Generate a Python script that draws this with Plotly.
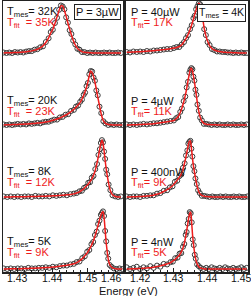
import plotly.graph_objects as go

W, H = 251, 296

# ---------------- data (normalised intensities) ----------------
# Left column: temperature series at P = 3 uW (top to bottom)
E_L1 = [1.4262,1.4270,1.4278,1.4286,1.4294,1.4302,1.4310,1.4318,1.4326,1.4334,1.4342,1.4350,1.4358,1.4366,1.4374,1.4382,1.4390,
        1.4396,1.4402,1.4408,1.4414,1.4420,1.4425,1.4430,1.4435,1.4440,1.4445,1.4450,1.4455,1.4460,1.4466,1.4472,1.4478,1.4485,1.4492,1.4500,1.4508,
        1.4516,1.4524,1.4532,1.4540,1.4548,1.4556,1.4564,1.4572,1.4580,1.4588,1.4596]
fit_L1 = [0.0,0.003,0.005,0.007,0.009,0.012,0.015,0.02,0.027,0.035,0.045,0.06,0.08,0.11,0.15,0.22,0.32,
          0.42,0.5,0.62,0.76,0.9,0.99,0.99,0.9,0.77,0.63,0.5,0.38,0.27,0.17,0.1,0.06,0.03,0.015,0.008,0.004,
          0,0,0,0,0,0,0,0,0,0,0]
dat_L1 = [0.01,0.0,0.01,0.0,0.02,0.01,0.02,0.01,0.03,0.04,0.04,0.07,0.08,0.12,0.14,0.23,0.31,
          0.44,0.49,0.63,0.74,0.91,1.0,0.98,0.92,0.75,0.64,0.48,0.4,0.26,0.18,0.09,0.07,0.02,0.02,0.0,0.01,
          0.0,0.01,0.0,0.0,0.01,0.0,0.01,0.0,0.0,0.01,0.0]

E_L2 = [1.4262,1.4270,1.4278,1.4286,1.4294,1.4302,1.4310,1.4318,1.4326,1.4334,1.4342,1.4350,1.4358,1.4366,1.4374,1.4382,1.4390,1.4398,1.4406,
        1.4414,1.4422,1.4430,1.4438,1.4446,1.4454,1.4462,1.4468,1.4474,1.4480,1.4485,1.4490,1.4494,1.4498,1.4502,1.4506,1.4510,1.4514,1.4518,1.4522,1.4526,1.4530,1.4535,1.4540,1.4546,1.4552,
        1.4560,1.4568,1.4576,1.4584,1.4592,1.4600]
fit_L2 = [0.0,0.003,0.005,0.007,0.009,0.011,0.013,0.016,0.019,0.022,0.026,0.03,0.035,0.04,0.047,0.055,0.065,0.078,0.095,
          0.11,0.13,0.155,0.18,0.21,0.25,0.29,0.33,0.37,0.42,0.48,0.55,0.62,0.7,0.8,0.92,1.0,0.97,0.9,0.8,0.66,0.52,0.36,0.2,0.08,0.03,
          0.01,0.004,0,0,0,0]
dat_L2 = [0.01,0.0,0.01,0.0,0.01,0.02,0.01,0.02,0.01,0.03,0.02,0.03,0.04,0.03,0.05,0.06,0.06,0.08,0.1,
          0.1,0.14,0.15,0.19,0.2,0.26,0.28,0.34,0.36,0.43,0.47,0.56,0.6,0.72,0.78,0.94,1.0,0.99,0.88,0.82,0.64,0.55,0.34,0.22,0.07,0.03,
          0.0,0.01,0.0,0.01,0.0,0.0]

E_L3 = [1.4262,1.4272,1.4282,1.4292,1.4302,1.4312,1.4322,1.4332,1.4342,1.4352,1.4362,1.4372,1.4382,1.4392,1.4402,1.4412,1.4422,1.4432,1.4442,1.4452,1.4462,
        1.4470,1.4478,1.4485,1.4491,1.4497,1.4503,1.4508,1.4513,1.4518,1.4523,1.4528,1.4532,1.4536,1.4539,1.4542,1.4545,1.4548,1.4551,1.4554,1.4557,1.4561,1.4566,1.4572,
        1.4580,1.4588,1.4596]
fit_L3 = [0,0,0.002,0.003,0.004,0.005,0.006,0.007,0.008,0.01,0.011,0.013,0.015,0.017,0.02,0.023,0.027,0.032,0.038,0.045,0.055,
          0.07,0.09,0.12,0.15,0.19,0.23,0.27,0.32,0.38,0.47,0.6,0.72,0.85,0.94,1.0,0.95,0.82,0.65,0.5,0.38,0.24,0.11,0.04,
          0.01,0,0]
dat_L3 = [0.01,0.0,0.01,0.0,0.01,0.0,0.01,0.01,0.0,0.02,0.01,0.01,0.02,0.01,0.03,0.02,0.03,0.04,0.03,0.05,0.06,
          0.07,0.1,0.11,0.16,0.18,0.25,0.26,0.34,0.37,0.49,0.58,0.74,0.84,0.95,1.0,0.96,0.8,0.67,0.48,0.4,0.22,0.12,0.03,
          0.01,0.0,0.01]

E_L4 = [1.4262,1.4272,1.4282,1.4292,1.4302,1.4312,1.4322,1.4332,1.4342,1.4352,1.4362,1.4372,1.4382,1.4392,1.4402,1.4412,1.4422,1.4432,1.4442,1.4452,1.4462,
        1.4470,1.4478,1.4486,1.4493,1.4500,1.4506,1.4512,1.4517,1.4522,1.4527,1.4531,1.4535,1.4539,1.4542,1.4545,1.4548,1.4551,1.4554,1.4557,1.4560,1.4564,1.4569,1.4576,
        1.4584,1.4592,1.4600]
fit_L4 = [0,0.002,0.003,0.004,0.005,0.006,0.008,0.01,0.012,0.014,0.017,0.02,0.024,0.028,0.033,0.039,0.046,0.055,0.065,0.077,0.09,
          0.11,0.14,0.18,0.23,0.28,0.34,0.41,0.48,0.57,0.67,0.76,0.85,0.93,0.98,1.0,0.9,0.68,0.46,0.3,0.17,0.08,0.035,0.01,
          0,0,0]
dat_L4 = [0.01,0.0,0.01,0.0,0.01,0.01,0.0,0.02,0.01,0.01,0.02,0.02,0.03,0.02,0.04,0.03,0.05,0.06,0.06,0.08,0.09,
          0.12,0.13,0.19,0.22,0.3,0.33,0.43,0.47,0.59,0.65,0.78,0.84,0.94,0.97,1.0,0.92,0.66,0.48,0.28,0.18,0.07,0.04,0.01,
          0.0,0.01,0.0]

# Right column: power series at T_mes = 4 K (top to bottom)
E_R1 = [1.4160,1.4170,1.4180,1.4190,1.4200,1.4210,1.4220,1.4230,1.4240,1.4250,1.4260,1.4270,1.4280,1.4290,1.4300,
        1.4308,1.4316,1.4323,1.4330,1.4336,1.4342,1.4348,1.4353,1.4358,1.4362,1.4366,1.4370,1.4374,1.4378,1.4382,1.4386,1.4390,1.4395,1.4400,1.4406,1.4413,1.4420,1.4428,
        1.4436,1.4444,1.4452,1.4460,1.4468,1.4476,1.4484,1.4492,1.4500,1.4508,1.4516]
fit_R1 = [0.015,0.017,0.02,0.023,0.027,0.031,0.036,0.041,0.047,0.053,0.06,0.068,0.077,0.087,0.1,
          0.11,0.13,0.16,0.23,0.29,0.37,0.47,0.57,0.68,0.78,0.87,0.95,1.0,0.97,0.86,0.68,0.5,0.35,0.24,0.15,0.09,0.06,0.04,
          0.03,0.022,0.016,0.012,0.009,0.006,0.004,0.002,0.001,0,0]
dat_R1 = [0.02,0.01,0.03,0.02,0.03,0.02,0.04,0.03,0.05,0.05,0.06,0.07,0.08,0.08,0.1,
          0.12,0.12,0.17,0.22,0.3,0.36,0.48,0.56,0.7,0.75,0.88,0.94,1.0,0.98,0.84,0.7,0.48,0.36,0.22,0.16,0.08,0.06,0.03,
          0.03,0.02,0.02,0.01,0.01,0.0,0.01,0.0,0.01,0.0,0.0]

E_R2 = [1.4160,1.4170,1.4180,1.4190,1.4200,1.4210,1.4220,1.4230,1.4240,1.4250,1.4260,1.4270,1.4280,1.4290,1.4300,
        1.4307,1.4313,1.4319,1.4324,1.4329,1.4334,1.4338,1.4342,1.4346,1.4349,1.4352,1.4355,1.4358,1.4361,1.4364,1.4367,1.4370,1.4374,1.4378,1.4383,1.4389,1.4396,1.4404,
        1.4412,1.4420,1.4428,1.4436,1.4444,1.4452,1.4460,1.4468,1.4476,1.4484,1.4492,1.4500,1.4508,1.4516]
fit_R2 = [0,0.002,0.004,0.006,0.008,0.011,0.014,0.018,0.023,0.03,0.038,0.047,0.057,0.068,0.08,
          0.11,0.15,0.22,0.3,0.4,0.52,0.64,0.78,0.9,0.98,1.0,0.96,0.87,0.76,0.64,0.51,0.38,0.24,0.14,0.07,0.03,0.015,0.008,
          0.005,0.003,0.002,0.001,0,0,0,0,0,0,0,0,0,0]
dat_R2 = [0.01,0.0,0.01,0.0,0.01,0.02,0.01,0.02,0.03,0.03,0.04,0.05,0.06,0.07,0.08,
          0.12,0.14,0.23,0.29,0.42,0.5,0.66,0.76,0.92,0.97,1.0,0.98,0.85,0.78,0.62,0.53,0.36,0.25,0.13,0.08,0.02,0.02,0.01,
          0.0,0.01,0.0,0.01,0.0,0.0,0.01,0.0,0.01,0.0,0.0,0.01,0.0,0.01]

E_R3 = [1.4160,1.4170,1.4180,1.4190,1.4200,1.4210,1.4220,1.4230,1.4240,1.4250,1.4260,1.4270,1.4280,
        1.4288,1.4296,1.4303,1.4310,1.4316,1.4322,1.4327,1.4332,1.4336,1.4340,1.4343,1.4346,1.4349,1.4352,1.4355,1.4358,1.4361,1.4364,1.4368,1.4372,1.4377,1.4383,1.4390,1.4398,
        1.4406,1.4414,1.4422,1.4430,1.4438,1.4446,1.4454,1.4462,1.4470,1.4478,1.4486,1.4494,1.4502,1.4510,1.4518]
fit_R3 = [0.0,0.002,0.004,0.006,0.009,0.013,0.018,0.024,0.032,0.05,0.07,0.1,0.13,
          0.16,0.2,0.25,0.3,0.35,0.41,0.5,0.61,0.72,0.84,0.93,0.99,1.0,0.88,0.7,0.56,0.45,0.34,0.22,0.13,0.06,0.03,0.015,0.008,
          0.004,0.002,0.001,0,0,0,0,0,0,0,0,0,0,0,0]
dat_R3 = [0.01,0.0,0.01,0.01,0.0,0.02,0.02,0.03,0.03,0.06,0.07,0.11,0.12,
          0.17,0.19,0.27,0.29,0.37,0.4,0.52,0.6,0.74,0.83,0.95,0.98,1.0,0.86,0.72,0.55,0.46,0.33,0.23,0.12,0.07,0.02,0.02,0.01,
          0.0,0.01,0.0,0.0,0.01,0.0,0.01,0.0,0.0,0.01,0.0,0.01,0.0,0.0,0.01]

E_R4 = [1.4160,1.4170,1.4180,1.4190,1.4200,1.4210,1.4220,1.4230,1.4240,1.4250,1.4260,1.4270,1.4280,1.4290,
        1.4297,1.4304,1.4311,1.4317,1.4322,1.4327,1.4331,1.4335,1.4338,1.4341,1.4344,1.4347,1.4350,1.4353,1.4356,1.4359,1.4362,1.4365,1.4369,1.4374,1.4380,1.4388,
        1.4396,1.4404,1.4412,1.4420,1.4428,1.4436,1.4444,1.4452,1.4460,1.4468,1.4476,1.4484,1.4492,1.4500,1.4508,1.4516]
fit_R4 = [0,0.002,0.004,0.006,0.009,0.013,0.018,0.024,0.032,0.042,0.055,0.07,0.09,0.11,
          0.14,0.17,0.21,0.25,0.3,0.37,0.45,0.57,0.67,0.78,0.9,0.98,1.0,0.8,0.56,0.4,0.27,0.17,0.09,0.04,0.015,0.005,
          0,0,0,0,0,0,0,0,0,0,0,0,0,0,0,0]
dat_R4 = [0.03,0.0,0.02,0.04,0.0,0.03,0.01,0.05,0.02,0.06,0.04,0.09,0.08,0.12,
          0.13,0.19,0.2,0.27,0.28,0.39,0.44,0.6,0.65,0.8,0.88,1.0,0.98,0.82,0.52,0.42,0.25,0.18,0.08,0.05,0.02,0.0,
          0.02,0.0,0.03,0.01,0.0,0.02,0.0,0.03,0.01,0.0,0.02,0.0,0.01,0.03,0.0,0.02]

left_E = [E_L1, E_L2, E_L3, E_L4]
left_fit = [fit_L1, fit_L2, fit_L3, fit_L4]
left_dat = [dat_L1, dat_L2, dat_L3, dat_L4]
right_E = [E_R1, E_R2, E_R3, E_R4]
right_fit = [fit_R1, fit_R2, fit_R3, fit_R4]
right_dat = [dat_R1, dat_R2, dat_R3, dat_R4]

left_heights = [0.66, 0.75, 0.79, 0.80]
right_heights = [0.69, 0.79, 0.78, 0.79]

T_mes = ["32K", "20K", "8K", "5K"]
T_fit_left = ["35K", "23K", "12K", "9K"]
P_right = ["40µW", "4µW", "400nW", "4nW"]
T_fit_right = ["17K", "11K", "9K", "5K"]

left_ticks = [1.43, 1.44, 1.45, 1.46]
left_ticklabels = ["1.43", "1.44", "1.45", "1.46"]
right_ticks = [1.42, 1.43, 1.44, 1.45]
right_ticklabels = ["1.42", "1.43", "1.44", "1.45"]

# ---------------- figure ----------------
fig = go.Figure()
DATA_COL = "#3a3a3a"
FIT_COL = "#ee1c1c"

def add_panel(Es, fits, dats, heights, xa, ya):
    n = len(Es)
    for i in range(n):
        off = n - 1 - i
        h = heights[i]
        fig.add_trace(go.Scatter(
            x=Es[i], y=[off + h * v for v in dats[i]], xaxis=xa, yaxis=ya,
            mode="markers", showlegend=False, hoverinfo="skip",
            marker=dict(symbol="circle-open", size=5, color=DATA_COL, line=dict(width=1, color=DATA_COL))))
        fig.add_trace(go.Scatter(
            x=Es[i], y=[off + h * v for v in fits[i]], xaxis=xa, yaxis=ya,
            mode="lines", showlegend=False, hoverinfo="skip",
            line=dict(color=FIT_COL, width=1.5, shape="spline", smoothing=0.6)))

add_panel(left_E, left_fit, left_dat, left_heights, "x", "y")
add_panel(right_E, right_fit, right_dat, right_heights, "x2", "y2")

def px(x): return x / W
def py(y): return 1 - y / H

top_px, bot_px = 1, 272
ydom = [1 - bot_px / H, 1 - top_px / H]
spacing = (269 - 53) / 3.0
yrange = [-(bot_px - 269) / spacing, (269 - top_px) / spacing]

axis_common = dict(showline=True, mirror=True, linecolor="#222", linewidth=1.5,
                   showgrid=False, zeroline=False)
xcommon = dict(axis_common, ticks="inside", ticklen=4, tickwidth=1, tickcolor="#222",
               showticklabels=False,
               minor=dict(ticks="inside", ticklen=2, dtick=0.002, tickcolor="#222"))

fig.update_layout(
    width=W, height=H, margin=dict(l=0, r=0, t=0, b=0),
    paper_bgcolor="white", plot_bgcolor="white",
    xaxis=dict(xcommon, domain=[px(3), px(123)], range=[1.426, 1.4602], tickvals=left_ticks),
    xaxis2=dict(xcommon, domain=[px(126), px(248)], range=[1.4158, 1.452], tickvals=right_ticks),
    yaxis=dict(axis_common, domain=ydom, range=yrange, showticklabels=False, ticks=""),
    yaxis2=dict(axis_common, domain=ydom, range=yrange, showticklabels=False, ticks="", anchor="x2"),
    font=dict(family="Liberation Sans, Arial", size=11, color="#111"),
)
fig.layout.xaxis2.anchor = "y2"

ann = []
FONT = dict(family="Liberation Sans, Arial", size=11, color="#111")
RFONT = dict(family="Liberation Sans, Arial", size=11, color=FIT_COL)
TFONT = dict(family="Liberation Sans, Arial", size=10.5, color="#111")

# tick labels (placed with the axis scale)
for i, (v, t) in enumerate(zip(left_ticks, left_ticklabels)):
    last = i == len(left_ticks) - 1
    ann.append(dict(x=v, xref="x", y=py(278), yref="paper", text=t, showarrow=False, font=TFONT,
                    xanchor="right" if last else "center", xshift=2 if last else 0, yanchor="middle"))
for v, t in zip(right_ticks, right_ticklabels):
    ann.append(dict(x=v, xref="x2", y=py(278), yref="paper", text=t, showarrow=False, font=TFONT,
                    xanchor="center", yanchor="middle"))

row_y = [12, 101, 172, 242]
for i in range(4):
    ym = row_y[i]
    ann.append(dict(x=px(5), y=py(ym), xref="paper", yref="paper", xanchor="left", yanchor="middle",
                    text="T<sub>mes</sub>= " + T_mes[i], showarrow=False, font=FONT))
    ann.append(dict(x=px(5), y=py(ym + 11), xref="paper", yref="paper", xanchor="left", yanchor="middle",
                    text="T<sub>fit</sub>  = " + T_fit_left[i], showarrow=False, font=RFONT))
    ann.append(dict(x=px(129), y=py(ym), xref="paper", yref="paper", xanchor="left", yanchor="middle",
                    text="P = " + P_right[i], showarrow=False, font=FONT))
    ann.append(dict(x=px(129), y=py(ym + 11), xref="paper", yref="paper", xanchor="left", yanchor="middle",
                    text="T<sub>fit</sub>= " + T_fit_right[i], showarrow=False, font=RFONT))

ann.append(dict(x=px(121), y=py(4), xref="paper", yref="paper", xanchor="right", yanchor="top",
                text="P = 3µW", showarrow=False, font=FONT, bordercolor="#222", borderwidth=1,
                borderpad=1, bgcolor="white"))
ann.append(dict(x=px(246), y=py(4), xref="paper", yref="paper", xanchor="right", yanchor="top",
                text="T<sub>mes</sub> = 4K", showarrow=False, font=dict(FONT, size=10.5), bordercolor="#222",
                borderwidth=1, borderpad=1, bgcolor="white"))
ann.append(dict(x=px(128), y=py(291), xref="paper", yref="paper", xanchor="center", yanchor="middle",
                text="Energy (eV)", showarrow=False, font=dict(family="Liberation Sans, Arial", size=11, color="#111")))
fig.update_layout(annotations=ann)

fig.write_html("out.html", config={"displayModeBar": False, "staticPlot": True},
               post_script="document.body.style.margin='0';document.body.style.overflow='hidden';")
